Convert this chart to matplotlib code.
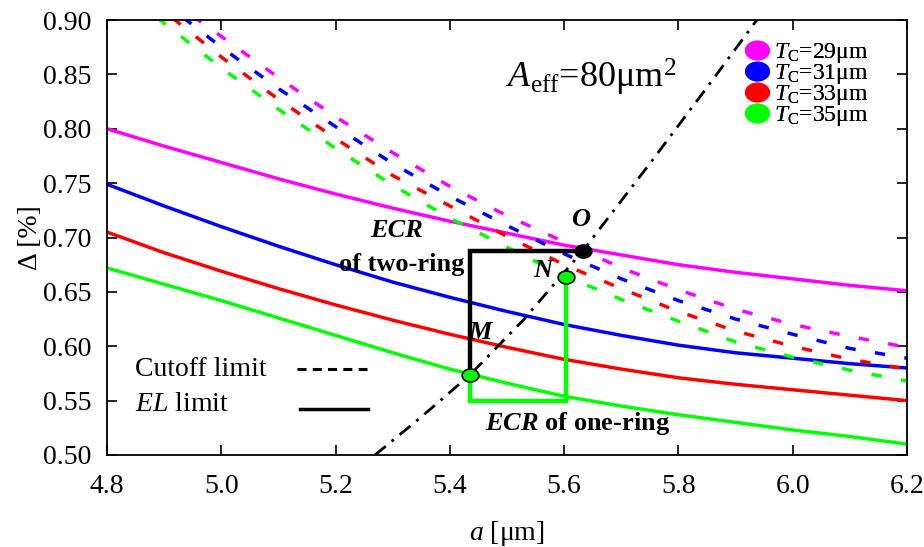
import numpy as np
import matplotlib
matplotlib.use('Agg')
import matplotlib.pyplot as plt
from matplotlib.lines import Line2D
from matplotlib.path import Path

plt.rcParams['font.family'] = ['Liberation Serif', 'DejaVu Serif']
plt.rcParams['mathtext.fontset'] = 'custom'
plt.rcParams['mathtext.rm'] = 'Liberation Serif'
plt.rcParams['mathtext.it'] = 'Liberation Serif:italic'
plt.rcParams['mathtext.bf'] = 'Liberation Serif:bold:italic'
plt.rcParams['lines.scale_dashes'] = False

# core radius a [um]
a = [4.8, 4.9, 5.0, 5.1, 5.2, 5.3, 5.4, 5.5, 5.6, 5.7, 5.8, 5.9, 6.0, 6.1, 6.2]

# EL limit (solid) for each TC
el_29 = [0.800, 0.784, 0.769, 0.754, 0.740, 0.727, 0.715, 0.704, 0.693, 0.684, 0.675, 0.668, 0.662, 0.656, 0.651]
el_31 = [0.749, 0.729, 0.710, 0.692, 0.675, 0.659, 0.645, 0.632, 0.620, 0.610, 0.601, 0.594, 0.589, 0.584, 0.580]
el_33 = [0.705, 0.686, 0.669, 0.653, 0.638, 0.624, 0.611, 0.599, 0.588, 0.579, 0.571, 0.565, 0.560, 0.555, 0.550]
el_35 = [0.672, 0.657, 0.642, 0.626, 0.610, 0.594, 0.579, 0.566, 0.554, 0.545, 0.537, 0.530, 0.523, 0.517, 0.510]

# cutoff limit (dashed) for each TC
co_29 = [0.960, 0.922, 0.885, 0.847, 0.811, 0.778, 0.747, 0.720, 0.696, 0.672, 0.652, 0.634, 0.620, 0.609, 0.599]
co_31 = [0.958, 0.916, 0.875, 0.837, 0.802, 0.768, 0.738, 0.711, 0.685, 0.662, 0.642, 0.625, 0.611, 0.598, 0.589]
co_33 = [0.952, 0.908, 0.866, 0.827, 0.791, 0.757, 0.729, 0.701, 0.675, 0.653, 0.632, 0.614, 0.600, 0.588, 0.579]
co_35 = [0.940, 0.897, 0.856, 0.818, 0.782, 0.748, 0.718, 0.691, 0.665, 0.643, 0.623, 0.604, 0.590, 0.578, 0.568]

tc_labels = ['29', '31', '33', '35']
colores = ['#ff00ff', '#0000ff', '#ff0000', '#00ff00']

# Aeff = 80 um^2 contour
aeff_a = [5.269, 5.35, 5.436, 5.53, 5.633, 5.75, 5.85, 5.94]
aeff_d = [0.500, 0.535, 0.574, 0.625, 0.688, 0.768, 0.838, 0.902]

# points M, N, O
pt_a = [5.436, 5.603, 5.633]
pt_d = [0.574, 0.664, 0.688]
pt_color = ['#00ff00', '#00ff00', 'black']

# ECR boxes
ecr2_a = [5.436, 5.436, 5.633]
ecr2_d = [0.574, 0.688, 0.688]
ecr1_a = [5.436, 5.436, 5.603, 5.603]
ecr1_d = [0.574, 0.550, 0.550, 0.664]

# marcador eliptico (mas ancho que alto)
circ = Path.unit_circle()
elipse = Path(circ.vertices * np.array([1.0, 0.78]), circ.codes)

fig = plt.figure(figsize=(9.24, 5.47), dpi=100)
ax = fig.add_axes([0.1158, 0.1682, 0.8658, 0.7952])

for sol, cor, col in zip([el_29, el_31, el_33, el_35], [co_29, co_31, co_33, co_35], colores):
    ax.plot(a, sol, color=col, lw=2.5, solid_capstyle='butt')
    ax.plot(a, cor, color=col, lw=2.5, linestyle=(0, (7.5, 14)), dash_capstyle='butt')

ax.plot(aeff_a, aeff_d, color='black', lw=2.0, linestyle=(0, (10, 5.5, 2, 5.5)), dash_capstyle='butt')

ax.plot(ecr2_a, ecr2_d, color='black', lw=3.2, solid_joinstyle='miter')
ax.plot(ecr1_a, ecr1_d, color='#00ff00', lw=3.2, solid_joinstyle='miter')

for xa, yd, c in zip(pt_a, pt_d, pt_color):
    ax.plot(xa, yd, marker=elipse, ms=12, mfc=c, mec='black', mew=1.2, zorder=5)

# etiquetas de los puntos
ax.text(5.453, 0.613, 'M', fontsize=19, fontweight='bold', fontstyle='italic', ha='center', va='center')
ax.text(5.563, 0.670, 'N', fontsize=19, fontweight='bold', fontstyle='italic', ha='center', va='center')
ax.text(5.628, 0.717, 'O', fontsize=19, fontweight='bold', fontstyle='italic', ha='center', va='center')

ax.text(5.306, 0.706, 'ECR', fontsize=19, fontweight='bold', fontstyle='italic', ha='center', va='center')
ax.text(5.316, 0.675, 'of two-ring', fontsize=19, fontweight='bold', ha='center', va='center')
ax.text(5.462, 0.529, r'$\mathbf{ECR}$ of one-ring', fontsize=19, fontweight='bold', ha='left', va='center')

ax.text(5.498, 0.847, r'$A_{\rm eff}$=80μm$^2$', fontsize=26, ha='left', va='center')

# leyenda de colores (TC)
h_tc = [Line2D([], [], ls='none', marker=elipse, ms=17, mfc=c, mec=c) for c in colores]
leg1 = ax.legend(h_tc, [r'$T_{\rm C}$=' + t + 'μm' for t in tc_labels],
                 loc='upper left', bbox_to_anchor=(0.80, 0.952), frameon=False,
                 fontsize=17, borderpad=0, borderaxespad=0, handlelength=0.85,
                 handletextpad=0.3, labelspacing=-0.12)
ax.add_artist(leg1)

# leyenda de estilos de linea (texto a la izquierda, muestra a la derecha)
ax.text(0.035, 0.197, 'Cutoff limit', transform=ax.transAxes, fontsize=20, ha='left', va='center')
ax.text(0.035, 0.115, r'$EL$ limit', transform=ax.transAxes, fontsize=20, ha='left', va='center')
ax.plot([0.2375, 0.325], [0.198, 0.198], transform=ax.transAxes, color='black', lw=2.2,
        linestyle=(0, (6.5, 4.5)), dash_capstyle='butt')
ax.plot([0.241, 0.326], [0.106, 0.106], transform=ax.transAxes, color='black', lw=2.5)

ax.set_xlim(4.8, 6.2)
ax.set_ylim(0.50, 0.90)
ax.set_xticks([4.8, 5.0, 5.2, 5.4, 5.6, 5.8, 6.0, 6.2])
ax.set_yticks([0.50, 0.55, 0.60, 0.65, 0.70, 0.75, 0.80, 0.85, 0.90])
ax.set_xticklabels(['4.8', '5.0', '5.2', '5.4', '5.6', '5.8', '6.0', '6.2'])
ax.set_yticklabels(['%.2f' % v for v in ax.get_yticks()])
ax.tick_params(direction='in', length=7, width=1.2, labelsize=20, top=True, right=True)
ax.tick_params(axis='x', pad=14)
ax.tick_params(axis='y', pad=11)
for s in ax.spines.values():
    s.set_linewidth(1.3)

ax.set_xlabel(r'$a$ [μm]', fontsize=20, labelpad=14)
ax.set_ylabel('Δ [%]', fontsize=20, labelpad=0)

plt.savefig('out.png', dpi=100)
